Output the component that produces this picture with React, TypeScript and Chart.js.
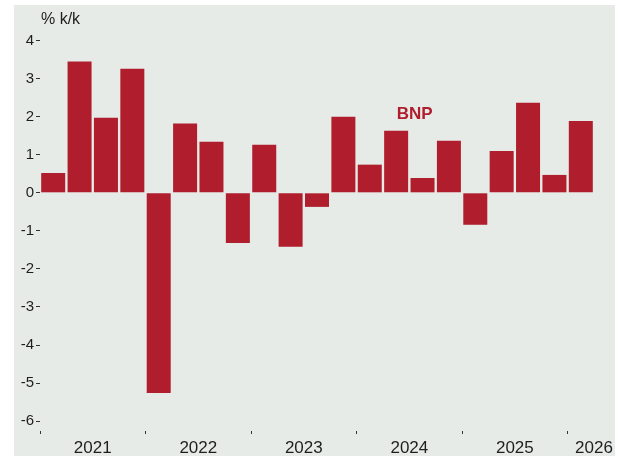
import React, { useEffect, useRef } from "react";
import { Chart, registerables } from "chart.js";

Chart.register(...registerables);

const quarterLabels = [
  "2021K1", "2021K2", "2021K3", "2021K4",
  "2022K1", "2022K2", "2022K3", "2022K4",
  "2023K1", "2023K2", "2023K3", "2023K4",
  "2024K1", "2024K2", "2024K3", "2024K4",
  "2025K1", "2025K2", "2025K3", "2025K4",
  "2026K1",
];
const bnpValues = [
  0.52, 3.45, 1.97, 3.26,
  -5.26, 1.82, 1.34, -1.32,
  1.26, -1.42, -0.37, 2.0,
  0.74, 1.63, 0.39, 1.37,
  -0.84, 1.1, 2.37, 0.47,
  1.89,
];
const yearLabelIndex = [1, 5, 9, 13, 17, 20];
const yearLabels = ["2021", "2022", "2023", "2024", "2025", "2026"];
const yTickValues = [4, 3, 2, 1, 0, -1, -2, -3, -4, -5, -6];
const unitLabel = "% k/k";
const seriesName = "BNP";

const FONT = "'Liberation Sans', Arial, Helvetica, sans-serif";
const BAR = "#b01e2e";
const BG = "#e7ebe8";
const TEXT = "#1e1e1e";

export default function App() {
  const ref = useRef<HTMLCanvasElement | null>(null);
  useEffect(() => {
    const canvas = ref.current;
    if (!canvas) return;
    const bgPlugin = {
      id: "bgPanel",
      beforeDraw(chart: any) {
        const c = chart.ctx;
        c.save();
        c.fillStyle = "#ffffff";
        c.fillRect(0, 0, chart.width, chart.height);
        c.fillStyle = BG;
        c.fillRect(14, 5, 601, 451);
        c.restore();
      },
      afterDraw(chart: any) {
        const c = chart.ctx;
        const xs = chart.scales.x;
        const ys = chart.scales.y;
        c.save();
        c.fillStyle = TEXT;
        c.font = `16px ${FONT}`;
        c.textAlign = "left";
        c.textBaseline = "middle";
        c.fillText(unitLabel, 41, 20);
        c.fillStyle = BAR;
        c.font = `bold 17px ${FONT}`;
        c.textAlign = "center";
        c.fillText(seriesName, xs.getPixelForValue(13.7), ys.getPixelForValue(2.05));
        c.restore();
      },
    };
    const chart = new Chart(canvas, {
      type: "bar",
      data: {
        labels: quarterLabels,
        datasets: [
          {
            label: seriesName,
            data: bnpValues,
            backgroundColor: BAR,
            borderWidth: 0,
            categoryPercentage: 1,
            barPercentage: 0.91,
          },
        ],
      },
      options: {
        responsive: false,
        animation: false,
        devicePixelRatio: 1,
        layout: { padding: { top: 33, right: 29, bottom: 0, left: 0 } },
        plugins: { legend: { display: false }, tooltip: { enabled: false }, title: { display: false } },
        scales: {
          x: {
            type: "category",
            offset: true,
            border: { display: false },
            grid: {
              offset: true,
              drawOnChartArea: false,
              drawTicks: true,
              tickLength: 3,
              lineWidth: 1,
              tickColor: (ctx: any) => (ctx.index % 4 === 0 && ctx.index <= 20 ? "#333333" : "rgba(0,0,0,0)"),
              color: "rgba(0,0,0,0)",
            },
            ticks: {
              autoSkip: false,
              maxRotation: 0,
              minRotation: 0,
              padding: 4,
              labelOffset: 13.2,
              color: TEXT,
              font: { family: FONT, size: 17 },
              callback: (_v: any, i: number) => {
                const k = yearLabelIndex.indexOf(i);
                return k >= 0 ? yearLabels[k] : "";
              },
            },
            afterFit: (s: any) => {
              s.height = 25;
            },
          },
          y: {
            min: -6.26,
            max: 4.2,
            border: { display: false },
            grid: {
              drawOnChartArea: false,
              drawTicks: true,
              tickLength: 4,
              tickColor: "#333333",
              lineWidth: 1,
            },
            afterBuildTicks: (s: any) => {
              s.ticks = yTickValues.map((v) => ({ value: v }));
            },
            ticks: {
              padding: 2,
              color: TEXT,
              font: { family: FONT, size: 15 },
              callback: (v: any) => String(v),
            },
            afterFit: (s: any) => {
              s.width = 40;
            },
          },
        },
      },
      plugins: [bgPlugin],
    });
    return () => chart.destroy();
  }, []);
  return (
    <div style={{ position: "fixed", left: 0, top: 0, width: 623, height: 456, background: "#fff" }}>
      <canvas ref={ref} width={623} height={456} style={{ display: "block", width: 623, height: 456 }} />
    </div>
  );
}
